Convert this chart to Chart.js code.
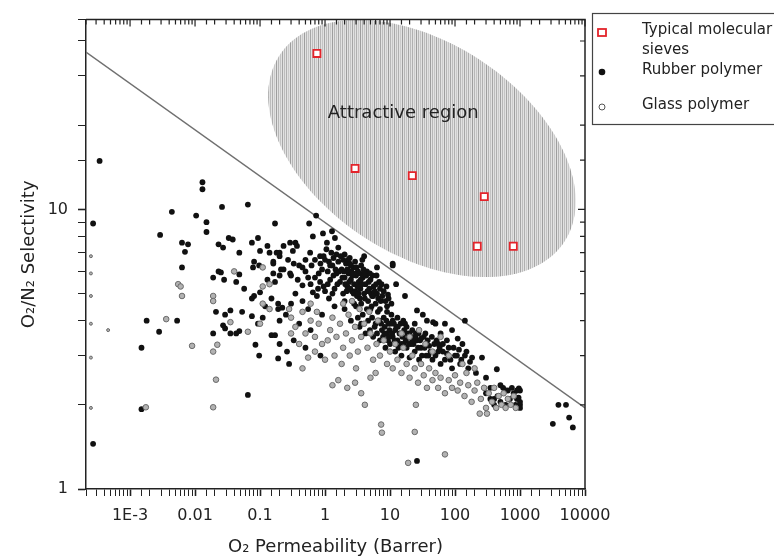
<!DOCTYPE html>
<html lang="en">
<head>
<meta charset="UTF-8">
<title>O2/N2 Selectivity vs O2 Permeability</title>
<script src="https://cdn.jsdelivr.net/npm/chart.js"></script>
<style>
  html, body { margin: 0; padding: 0; background: #fff; }
  canvas { display: block; }
</style>
</head>
<body>
<canvas id="chart" width="774" height="558"></canvas>
<script>
// axes
const xRange = [2.1e-4, 1e4];
const yRange = [1, 47.7];
const xTickValues = [1e-3, 1e-2, 1e-1, 1, 10, 100, 1000, 10000];
const xTickLabels = ['1E-3', '0.01', '0.1', '1', '10', '100', '1000', '10000'];
const yTickValues = [1, 10];
const yTickLabels = ['1', '10'];

// typical molecular sieves [permeability, selectivity]
const sieves = [[0.75, 36.1], [2.9, 14.0], [22, 13.2], [282, 11.1], [220, 7.38], [789, 7.38]];

// rubber polymers
const rubber = [
  [2.7e-4, 8.9], [3.4e-4, 14.9], [2.7e-4, 1.45], [1.5e-3, 1.93], [1.5e-3, 3.2], [1.8e-3, 4.0],
  [2.8e-3, 3.65], [2.9e-3, 8.1], [4.4e-3, 9.8], [5.3e-3, 4.0], [6.3e-3, 7.6], [7.8e-3, 7.5],
  [7.0e-3, 7.05], [6.3e-3, 6.2],
  [0.0104, 9.5], [0.013, 12.5], [0.013, 11.8], [0.015, 9.0], [0.015, 8.3], [0.026, 10.2],
  [0.065, 10.4], [0.023, 7.5], [0.027, 7.3], [0.033, 7.9], [0.038, 7.8], [0.048, 7.0],
  [0.075, 7.6], [0.093, 7.9], [0.10, 7.1], [0.13, 7.4], [0.14, 7.0], [0.20, 7.0],
  [0.081, 6.5], [0.097, 6.3], [0.078, 6.2], [0.16, 6.5], [0.21, 6.1], [0.019, 5.7],
  [0.023, 6.0], [0.025, 5.95], [0.028, 5.6], [0.048, 5.85], [0.043, 5.5], [0.021, 4.3],
  [0.035, 4.35], [0.029, 4.2], [0.053, 4.3], [0.075, 4.8], [0.081, 4.9], [0.10, 5.05],
  [0.19, 4.6], [0.19, 4.4], [0.20, 4.0], [0.22, 4.45], [0.075, 4.15], [0.11, 4.1],
  [0.093, 3.9], [0.019, 3.6], [0.027, 3.85], [0.029, 3.75], [0.035, 3.6], [0.043, 3.6],
  [0.048, 3.67], [0.15, 3.55], [0.085, 3.28], [0.097, 3.0], [0.19, 2.93], [0.20, 3.3],
  [0.17, 3.55], [0.065, 2.17], [0.17, 8.9], [0.057, 5.2], [0.13, 5.6], [0.16, 5.9],
  [0.12, 4.5], [0.15, 4.8],
  [0.73, 9.5], [0.57, 8.9], [0.65, 8.0], [0.93, 8.2], [1.28, 8.35], [1.07, 7.6],
  [1.42, 7.9], [0.29, 7.6], [0.35, 7.6], [0.37, 7.4], [0.32, 7.1], [0.23, 7.4],
  [0.18, 7.0], [0.20, 6.8], [0.16, 6.4], [0.59, 7.0], [0.84, 6.8], [0.30, 5.8],
  [0.23, 6.1], [0.20, 5.8], [0.17, 5.5], [0.29, 5.9], [0.45, 5.35], [0.70, 5.7],
  [0.84, 5.5], [0.65, 5.05], [0.35, 5.0], [0.40, 6.3], [0.50, 6.6], [0.27, 6.6],
  [0.45, 4.7], [0.55, 4.4], [0.30, 4.6], [0.25, 4.2], [0.40, 3.9], [0.60, 3.7],
  [0.33, 3.4], [0.26, 3.1], [0.50, 3.2], [0.85, 3.0], [0.28, 2.8], [0.90, 4.2],
  [1.0, 6.6], [1.1, 6.0], [1.2, 5.6], [1.3, 6.3], [1.4, 5.2], [1.5, 5.9],
  [1.6, 6.5], [1.7, 5.5], [1.8, 6.1], [1.9, 5.0], [2.0, 5.7], [2.1, 6.4],
  [2.2, 5.3], [2.3, 5.9], [2.4, 6.7], [2.5, 5.6], [2.6, 5.1], [2.7, 6.2],
  [2.8, 5.4], [3.0, 5.8], [3.1, 4.9], [3.2, 6.0], [3.3, 5.5], [3.5, 5.2],
  [3.6, 6.3], [3.8, 5.7], [4.0, 5.0], [4.2, 5.4], [4.4, 6.0], [4.6, 4.7],
  [4.8, 5.2], [5.0, 5.6], [5.3, 4.9], [5.6, 5.3], [6.0, 4.6], [6.3, 5.0],
  [6.8, 5.5], [7.2, 4.7], [8.0, 5.1], [9.0, 4.5], [1.05, 7.2], [0.90, 6.1],
  [0.80, 5.9], [0.95, 5.3], [1.25, 7.0], [1.6, 7.3], [2.0, 6.9], [1.15, 4.8],
  [1.4, 4.5], [0.75, 4.9], [0.60, 5.4], [0.50, 6.0],
  [1.1, 5.4], [1.3, 5.0], [1.45, 6.1], [1.55, 5.4], [1.75, 6.8], [1.85, 5.7],
  [1.95, 6.0], [2.15, 5.1], [2.25, 6.6], [2.45, 5.2], [2.55, 6.0], [2.65, 5.8],
  [2.9, 6.5], [2.95, 5.1], [3.15, 5.3], [3.4, 5.9], [3.45, 4.8], [3.7, 5.4],
  [3.9, 6.1], [4.1, 4.8], [4.3, 5.8], [4.7, 5.5], [5.1, 5.0], [5.4, 5.8],
  [5.8, 5.1], [6.1, 5.4], [6.6, 4.8], [7.0, 5.2], [7.6, 4.9], [8.5, 4.7],
  [1.2, 6.3], [1.35, 6.7], [0.85, 6.4], [1.0, 5.1], [2.0, 4.7], [2.8, 4.6],
  [3.6, 4.6], [5.2, 4.5], [9.5, 4.8], [10.5, 4.6],
  [1.15, 6.5], [1.35, 5.8], [1.5, 6.9], [1.65, 6.0], [1.9, 6.6], [2.05, 5.4],
  [2.35, 5.5], [2.5, 6.3], [2.75, 5.0], [3.05, 6.2], [3.3, 5.0], [3.55, 5.6],
  [3.75, 6.6], [4.05, 5.9], [4.5, 5.1], [4.9, 5.9], [5.5, 4.9], [6.2, 5.8],
  [7.4, 5.4], [8.8, 5.3], [0.45, 6.2], [0.55, 5.7], [0.62, 6.3], [0.70, 6.6],
  [0.78, 5.2], [0.95, 6.8], [0.38, 5.6], [0.33, 6.4],
  [2.0, 4.4], [2.5, 4.0], [3.0, 4.5], [3.4, 3.8], [3.8, 4.2], [4.2, 3.6],
  [4.6, 4.0], [5.0, 4.4], [5.5, 3.5], [6.0, 3.9], [6.5, 4.3], [7.0, 3.4],
  [7.5, 3.7], [8.0, 4.1], [8.5, 3.2], [9.0, 3.6], [9.5, 3.9], [10, 3.3],
  [10.5, 4.2], [11, 3.5], [12, 3.1], [12.5, 3.8], [13, 3.4], [14, 3.6],
  [15, 3.0], [16, 3.3], [17, 3.9], [18, 3.2], [19, 3.5], [20, 2.95],
  [21, 3.3], [22, 3.7], [24, 3.1], [26, 3.4], [28, 2.9], [30, 3.2],
  [33, 3.5], [36, 3.0], [40, 3.25], [45, 2.9], [26, 4.35], [32, 4.2],
  [37, 4.0], [46, 3.95], [17, 4.9], [12.4, 5.4], [9.3, 4.95], [11, 6.4],
  [11, 6.3], [6.3, 6.2], [4.0, 6.8], [2.4, 6.4], [2.2, 6.1], [2.7, 5.9],
  [3.2, 4.1], [3.6, 3.9], [4.4, 4.4], [4.9, 3.7], [5.3, 4.1], [5.8, 3.8],
  [6.3, 3.6], [6.8, 4.0], [7.3, 3.9], [7.8, 3.5], [8.3, 3.8], [8.8, 4.0],
  [9.3, 3.4], [9.8, 3.7], [10.8, 3.6], [11.5, 3.9], [12, 3.7], [13.5, 3.2],
  [14.5, 3.9], [15.5, 3.5], [16.5, 3.7], [17.5, 3.4], [18.5, 3.6], [19.5, 3.3],
  [21, 3.5], [23, 3.3], [25, 3.6], [27, 3.2], [29, 3.4], [31, 3.0],
  [34, 3.2], [38, 3.4], [42, 3.1], [48, 3.3], [55, 3.1], [11, 4.0],
  [13, 4.1], [9, 4.3], [7, 4.4], [24, 3.9],
  [8.2, 3.6], [9.6, 3.5], [10.2, 3.9], [11.8, 3.4], [13.2, 3.8], [14.8, 3.3],
  [16, 4.0], [18, 3.8], [20, 3.6], [22, 3.4], [24.5, 3.5], [27.5, 3.6],
  [30, 3.45], [35, 3.6], [39, 3.0], [44, 3.5], [52, 3.4], [58, 3.2],
  [65, 3.3], [75, 3.05], [85, 2.9], [95, 3.2], [115, 3.15], [125, 2.9],
  [150, 3.1], [170, 2.85],
  [50, 3.0], [55, 3.3], [60, 2.8], [65, 3.1], [70, 2.9], [80, 3.2],
  [90, 2.7], [100, 3.0], [107, 3.0], [120, 2.8], [142, 3.0], [160, 2.7],
  [183, 2.95], [210, 2.6], [260, 2.95], [300, 2.5], [440, 2.68], [142, 4.0],
  [60, 3.6], [75, 3.4], [90, 3.7], [110, 3.45], [130, 3.3], [70, 3.9],
  [50, 3.9], [300, 2.2], [350, 2.1], [400, 2.0], [450, 2.15], [500, 2.05],
  [600, 2.0], [700, 2.1], [800, 2.2], [900, 2.1], [960, 2.29], [1000, 2.0],
  [1000, 2.05], [950, 2.12], [550, 2.3], [650, 2.25], [400, 2.1], [600, 2.25],
  [750, 2.3], [850, 2.0], [1000, 2.25], [1000, 1.95], [900, 2.25], [500, 2.35],
  [350, 2.3], [26, 1.26],
  [3900, 2.0], [5100, 2.0], [5700, 1.8], [3200, 1.71], [6500, 1.66]
];

// glassy polymers
const glass = [
  [2.5e-4, 6.8], [2.5e-4, 5.9], [2.5e-4, 4.9], [2.5e-4, 3.9], [2.5e-4, 2.95], [2.5e-4, 1.95],
  [4.6e-4, 3.7], [1.75e-3, 1.96], [3.6e-3, 4.05], [5.5e-3, 5.4], [6.0e-3, 5.3], [6.3e-3, 4.9],
  [0.009, 3.25], [0.019, 3.1], [0.022, 3.28], [0.021, 2.46], [0.019, 1.96], [0.019, 4.9],
  [0.019, 4.7], [0.040, 6.0], [0.065, 3.65], [0.035, 3.95], [0.10, 3.9], [0.11, 6.2],
  [0.11, 5.3], [0.14, 5.4], [0.11, 4.6], [0.14, 4.4],
  [0.30, 4.1], [0.35, 3.8], [0.45, 4.3], [0.50, 3.6], [0.60, 4.0], [0.70, 3.5],
  [0.80, 3.9], [0.90, 3.3], [0.40, 3.3], [0.30, 3.6], [0.55, 2.95], [0.70, 3.1],
  [1.0, 2.9], [0.28, 4.4], [0.60, 4.6], [0.75, 4.3], [0.45, 2.7], [1.1, 3.4],
  [1.2, 3.7], [1.3, 4.1], [1.5, 3.5], [1.7, 3.9], [1.9, 3.2], [2.1, 3.6],
  [2.3, 4.2], [2.6, 3.4], [2.9, 3.8], [3.2, 3.1], [3.6, 3.5], [4.0, 3.9],
  [4.5, 3.2], [5.0, 3.6], [5.5, 2.9], [6.2, 3.3], [7.0, 3.0], [8.0, 3.4],
  [9.0, 2.8], [1.4, 3.0], [1.8, 2.8], [2.4, 3.0], [3.0, 2.7], [1.6, 2.45],
  [2.2, 2.3], [2.9, 2.4], [3.6, 2.2], [4.1, 2.0], [5.0, 2.5], [6.0, 2.6],
  [1.3, 2.35], [2.6, 4.7], [3.4, 4.4], [1.9, 4.6], [4.8, 4.3], [6.5, 4.0],
  [7.5, 1.59], [7.3, 1.7],
  [10, 3.1], [11, 2.7], [12, 3.3], [13, 2.9], [15, 2.6], [16, 3.2],
  [18, 2.8], [20, 2.5], [22, 3.0], [24, 2.7], [27, 2.4], [30, 2.8],
  [33, 2.55], [37, 2.3], [40, 2.7], [45, 2.45], [50, 2.6], [55, 2.3],
  [60, 2.5], [70, 2.2], [80, 2.45], [90, 2.3], [100, 2.55], [25, 2.0],
  [24, 1.6], [70, 1.33], [19, 1.24], [15, 3.6], [20, 3.5], [28, 3.7],
  [35, 3.3], [60, 3.5], [80, 3.0], [45, 3.1],
  [110, 2.25], [120, 2.4], [140, 2.15], [160, 2.35], [180, 2.05], [200, 2.25],
  [220, 2.4], [250, 2.1], [280, 2.3], [300, 1.95], [330, 2.2], [370, 2.05],
  [400, 2.3], [430, 1.95], [470, 2.15], [520, 2.0], [560, 2.2], [600, 1.95],
  [650, 2.1], [720, 2.0], [800, 2.15], [860, 1.95], [240, 1.86], [310, 1.86],
  [150, 2.6], [200, 2.7], [130, 2.8]
];

// upper bound line end points
const upperBound = [[2.1e-4, 36.5], [1e4, 1.95]];

// attractive region: centre, and two semi-axes in decades of (x, y)
const regionCenter = [31, 16.5];
const regionAxes = [[2.2, -0.33], [-0.87, -0.32]];
const regionLabel = ['Attractive region', 16, 22];

const legendRows = [['Typical molecular', 'sieves'], ['Rubber polymer'], ['Glass polymer']];

const FONT = 'DejaVu Sans';
const pts = arr => arr.map(([x, y]) => ({ x, y }));
const isDecade = v => Math.abs(Math.log10(v) - Math.round(Math.log10(v))) < 1e-6;
const tickText = (values, labels) => v => {
  const i = values.findIndex(t => Math.abs(Math.log10(t) - Math.log10(v)) < 1e-6);
  return i < 0 ? '' : labels[i];
};
// the faint marks hugging the left axis are drawn smaller
const glassRadius = c => (c.raw && c.raw.x < 5e-4 ? 1.5 : 2.8);

const region = {
  id: 'region',
  beforeDatasetsDraw(chart) {
    const { ctx, chartArea: a, scales: { x, y } } = chart;
    const lx = Math.log10(regionCenter[0]), ly = Math.log10(regionCenter[1]);
    ctx.save();
    ctx.beginPath();
    ctx.rect(a.left, a.top, a.width, a.height);
    ctx.clip();
    ctx.beginPath();
    for (let i = 0; i <= 144; i++) {
      const t = i / 144 * Math.PI * 2;
      const px = x.getPixelForValue(Math.pow(10, lx + Math.cos(t) * regionAxes[0][0] + Math.sin(t) * regionAxes[1][0]));
      const py = y.getPixelForValue(Math.pow(10, ly + Math.cos(t) * regionAxes[0][1] + Math.sin(t) * regionAxes[1][1]));
      if (i) ctx.lineTo(px, py); else ctx.moveTo(px, py);
    }
    ctx.closePath();
    ctx.clip();
    ctx.fillStyle = '#e2e2e2';
    ctx.fillRect(a.left, a.top, a.width, a.height);
    const shades = ['#a6a6a6', '#bdbdbd', '#b0b0b0', '#cacaca', '#9e9e9e', '#b6b6b6', '#c4c4c4'];
    ctx.lineWidth = 1;
    let k = 0;
    for (let px = Math.floor(a.left) + 0.5; px < a.right; px += 2, k++) {
      ctx.strokeStyle = shades[k % shades.length];
      ctx.beginPath();
      ctx.moveTo(px, a.top);
      ctx.lineTo(px, a.bottom);
      ctx.stroke();
    }
    ctx.restore();

    ctx.save();
    ctx.font = `18px "${FONT}"`;
    ctx.fillStyle = '#222';
    ctx.textAlign = 'center';
    ctx.textBaseline = 'middle';
    ctx.fillText(regionLabel[0], x.getPixelForValue(regionLabel[1]), y.getPixelForValue(regionLabel[2]));
    ctx.restore();
  }
};

// top/right frame with inward ticks, plus the boxed legend
const frame = {
  id: 'frame',
  afterDraw(chart) {
    const { ctx, chartArea: a, scales: { x, y } } = chart;
    ctx.save();
    ctx.strokeStyle = '#222';
    ctx.lineWidth = 1.5;
    ctx.beginPath();
    ctx.moveTo(a.left, a.top);
    ctx.lineTo(a.right, a.top);
    ctx.lineTo(a.right, a.bottom);
    ctx.stroke();
    ctx.lineWidth = 1.2;
    ctx.beginPath();
    x.ticks.forEach(t => {
      const px = x.getPixelForValue(t.value);
      ctx.moveTo(px, a.top);
      ctx.lineTo(px, a.top + (isDecade(t.value) ? 7 : 5));
    });
    y.ticks.forEach(t => {
      const py = y.getPixelForValue(t.value);
      ctx.moveTo(a.right, py);
      ctx.lineTo(a.right - (isDecade(t.value) ? 7 : 5), py);
    });
    ctx.stroke();

    // legend
    const lx = a.right + 7;
    ctx.lineWidth = 1.2;
    ctx.strokeStyle = '#444';
    ctx.strokeRect(lx + 0.5, 13.5, 300, 111);
    const mx = lx + 10, tx = lx + 50;
    const rowsY = [32, 72, 107];
    ctx.fillStyle = '#fff';
    ctx.strokeStyle = '#e3242b';
    ctx.lineWidth = 1.8;
    ctx.fillRect(mx - 4, rowsY[0] - 3, 8, 7);
    ctx.strokeRect(mx - 4, rowsY[0] - 3, 8, 7);
    ctx.fillStyle = '#111';
    ctx.beginPath();
    ctx.arc(mx, rowsY[1], 3.3, 0, Math.PI * 2);
    ctx.fill();
    ctx.fillStyle = '#fff';
    ctx.strokeStyle = '#555';
    ctx.lineWidth = 1;
    ctx.beginPath();
    ctx.arc(mx, rowsY[2], 3, 0, Math.PI * 2);
    ctx.fill();
    ctx.stroke();

    ctx.font = `15px "${FONT}"`;
    ctx.fillStyle = '#222';
    ctx.textAlign = 'left';
    ctx.textBaseline = 'middle';
    legendRows.forEach((lines, i) => {
      lines.forEach((s, j) => ctx.fillText(s, tx, rowsY[i] - 2 + j * 20));
    });
    ctx.restore();
  }
};

const axisFont = { family: FONT, size: 16 };
const titleFont = { family: FONT, size: 18 };

new Chart(document.getElementById('chart'), {
  type: 'scatter',
  data: {
    datasets: [
      { label: 'Typical molecular sieves', data: pts(sieves), pointStyle: 'rect', pointRadius: 5,
        backgroundColor: '#fff', borderColor: '#e3242b', borderWidth: 1.8 },
      { label: 'Glass polymer', data: pts(glass), pointRadius: glassRadius,
        backgroundColor: '#b2b2b2', borderColor: '#6a6a6a', borderWidth: 1 },
      { label: 'Rubber polymer', data: pts(rubber), pointRadius: 2.9,
        backgroundColor: '#111', borderColor: '#111', borderWidth: 0 },
      { label: 'Upper bound', data: pts(upperBound), showLine: true, pointRadius: 0,
        borderColor: '#707070', borderWidth: 1.3 }
    ]
  },
  options: {
    responsive: false,
    animation: false,
    layout: { padding: { left: 16, top: 14, right: 189, bottom: 0 } },
    plugins: { legend: { display: false }, tooltip: { enabled: false } },
    scales: {
      x: {
        type: 'logarithmic',
        min: xRange[0],
        max: xRange[1],
        afterFit: s => { s.height = 69; },
        border: { display: true, color: '#222', width: 1.5 },
        grid: { drawOnChartArea: false, drawTicks: true, tickLength: 7, color: '#222',
          tickWidth: c => (c.tick && isDecade(c.tick.value) ? 1.6 : 1) },
        ticks: { autoSkip: false, maxRotation: 0, padding: 10, color: '#222', font: axisFont,
          callback: tickText(xTickValues, xTickLabels) },
        title: { display: true, text: 'O₂ Permeability (Barrer)', color: '#222', font: titleFont,
          padding: { top: 0, bottom: 0 } }
      },
      y: {
        type: 'logarithmic',
        min: yRange[0],
        max: yRange[1],
        afterFit: s => { s.width = 70; },
        border: { display: true, color: '#222', width: 1.5 },
        grid: { drawOnChartArea: false, drawTicks: true, tickLength: 8, color: '#222',
          tickWidth: c => (c.tick && isDecade(c.tick.value) ? 1.6 : 1) },
        ticks: { autoSkip: false, padding: 10, color: '#222', font: axisFont,
          callback: tickText(yTickValues, yTickLabels) },
        title: { display: true, text: 'O₂/N₂ Selectivity', color: '#222', font: titleFont,
          padding: { top: 3, bottom: 0 } }
      }
    }
  },
  plugins: [region, frame]
});
</script>
</body>
</html>
